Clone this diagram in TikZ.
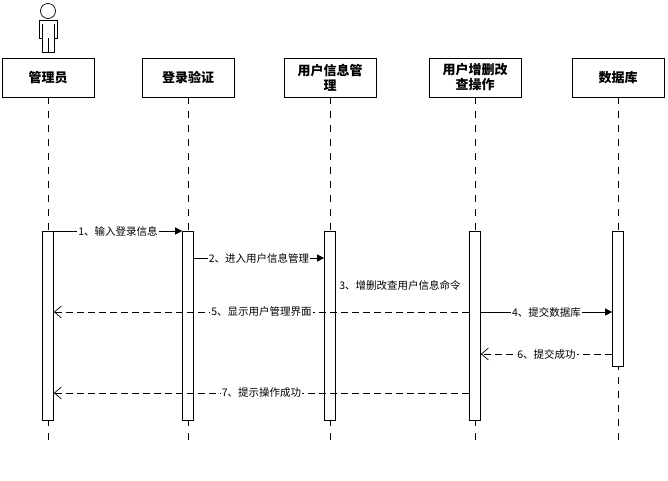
\documentclass[tikz,border=0pt]{standalone}
\usepackage{fontspec}
\newfontfamily\cjk{Noto Sans CJK SC}
\usetikzlibrary{arrows.meta}
\tikzset{
  head/.style={draw, thick, minimum width=92pt, minimum height=39pt, align=center, font=\cjk\bfseries\fontsize{13}{15}\selectfont, inner sep=1pt},
  bar/.style={draw, fill=white, minimum width=11pt, inner sep=0pt},
  msg/.style={font=\cjk\fontsize{10.5}{12}\selectfont, fill=white, inner sep=1pt},
  call/.style={-{Triangle[length=7pt,width=7pt]}},
  reply/.style={dashed, dash pattern=on 7pt off 4pt, -{Straight Barb[length=7pt,width=12pt]}}
}
\begin{document}
\begin{tikzpicture}[x=1pt,y=-1pt,line width=0.7pt]
  \useasboundingbox (0,0) rectangle (668,480);
  % Actor
  \draw (48,11) circle (7.5);
  \draw (39,20) -- (57,20) -- (57,38) -- (54,38) -- (54,52) -- (42,52) -- (42,38) -- (39,38) -- cycle;
  \draw (48,38) -- (48,52);
  \draw (42,24) -- (42,38) (54,24) -- (54,38);
  % Lifelines
  \foreach \n/\x/\t in {admin/48/管理员, login/188/登录验证, user/330/{用户信息管\\理}, crud/475/{用户增删改\\查操作}, db/618/数据库}{
    \draw[dashed, dash pattern=on 7pt off 7pt] (\x,97) -- (\x,440);
    \node[head] (\n) at (\x,77.5) {\t};
  }
  % Activation bars
  \node[bar, minimum height=189pt] (b1) at (48,325.5) {};
  \node[bar, minimum height=189pt] (b2) at (188,325.5) {};
  \node[bar, minimum height=189pt] (b3) at (330,325.5) {};
  \node[bar, minimum height=189pt] (b4) at (475,325.5) {};
  \node[bar, minimum height=135pt] (b5) at (618,298.5) {};
  % Messages
  \coordinate (m1s) at (b1.east |- 0,231);
  \coordinate (m1e) at (b2.west |- 0,231);
  \draw[call] (m1s) -- node[msg] (t1) {1、输入登录信息} (m1e);
  \coordinate (m2s) at (b2.east |- 0,258);
  \coordinate (m2e) at (b3.west |- 0,258);
  \draw[call] (m2s) -- node[msg] (t2) {2、进入用户信息管理} (m2e);
  \node[msg] (t3) at (400,285) {3、增删改查用户信息命令};
  \coordinate (m4s) at (b4.east |- 0,312);
  \coordinate (m4e) at (b5.west |- 0,312);
  \draw[call] (m4s) -- node[msg] (t4) {4、提交数据库} (m4e);
  \coordinate (m5s) at (b4.west |- 0,312);
  \coordinate (m5e) at (b1.east |- 0,312);
  \draw[reply] (m5s) -- node[msg, pos=0.5] (t5) {5、显示用户管理界面} (m5e);
  \coordinate (m6s) at (b5.west |- 0,354);
  \coordinate (m6e) at (b4.east |- 0,354);
  \draw[reply] (m6s) -- node[msg] (t6) {6、提交成功} (m6e);
  \coordinate (m7s) at (b4.west |- 0,393);
  \coordinate (m7e) at (b1.east |- 0,393);
  \draw[reply] (m7s) -- node[msg, pos=0.5] (t7) {7、提示操作成功} (m7e);
\end{tikzpicture}
\end{document}
